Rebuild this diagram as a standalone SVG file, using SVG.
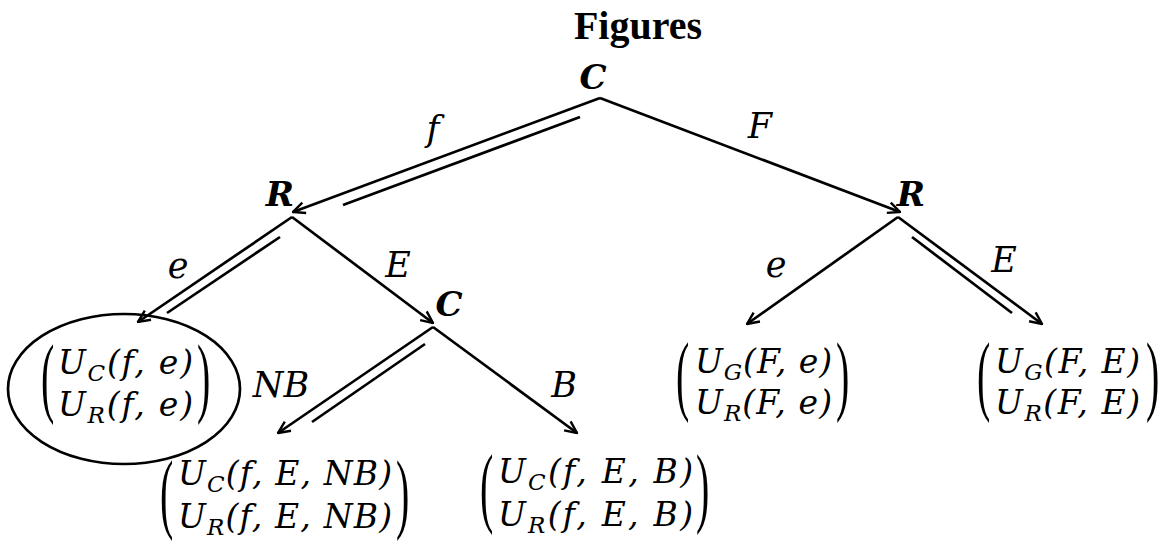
<svg xmlns="http://www.w3.org/2000/svg" width="1168" height="547" viewBox="0 0 1168 547">
<style>
.title{font-family:"Liberation Serif",serif;font-weight:bold;font-size:40px;fill:#000}
.node{font-family:"DejaVu Serif",serif;font-weight:bold;font-style:italic;font-size:34px;fill:#000}
.lab{font-family:"DejaVu Serif",serif;font-style:italic;font-size:35px;fill:#000}
.m{font-family:"DejaVu Serif",serif;font-style:italic;font-size:33px;fill:#000}
.sub{font-size:23px}
.bp{font-family:"Liberation Serif",serif;font-size:40px;fill:#000}
.ln{stroke:#000;stroke-width:2.7;fill:none}
.arr{marker-end:url(#ah)}
</style>
<defs>
<marker id="ah" viewBox="0 0 14 14" refX="13" refY="7" markerWidth="14" markerHeight="14" markerUnits="userSpaceOnUse" orient="auto"><path d="M1,1.5 L13,7 L1,12.5" fill="none" stroke="#000" stroke-width="2.4"/></marker>
</defs>
<rect width="1168" height="547" fill="#fff"/>
<text class="title" x="638" y="39" text-anchor="middle">Figures</text>

<g id="connectors">
<line class="ln arr" x1="600" y1="98" x2="293" y2="212"/>
<line class="ln" x1="580" y1="117" x2="343" y2="205"/>
<line class="ln arr" x1="600" y1="98" x2="900" y2="212"/>
<line class="ln arr" x1="292" y1="217" x2="138" y2="322"/>
<line class="ln" x1="280" y1="237" x2="167" y2="313"/>
<line class="ln arr" x1="292" y1="217" x2="433" y2="323"/>
<line class="ln arr" x1="433" y1="327" x2="278" y2="433"/>
<line class="ln" x1="425" y1="344" x2="312" y2="422"/>
<line class="ln arr" x1="433" y1="327" x2="577" y2="433"/>
<line class="ln arr" x1="898" y1="217" x2="747" y2="324"/>
<line class="ln arr" x1="898" y1="217" x2="1042" y2="324"/>
<line class="ln" x1="912" y1="237" x2="1012" y2="313"/>
<text class="lab" x="433" y="141" text-anchor="middle">f</text>
<text class="lab" x="760" y="138" text-anchor="middle">F</text>
<text class="lab" x="178" y="278" text-anchor="middle">e</text>
<text class="lab" x="398" y="277" text-anchor="middle">E</text>
<text class="lab" x="281" y="397" text-anchor="middle">NB</text>
<text class="lab" x="564" y="397" text-anchor="middle">B</text>
<text class="lab" x="776" y="277" text-anchor="middle">e</text>
<text class="lab" x="1004" y="272" text-anchor="middle">E</text>
</g>

<g id="node-C-root"><text class="node" x="593" y="89" text-anchor="middle">C</text></g>
<g id="node-R-left"><text class="node" x="280" y="206" text-anchor="middle">R</text></g>
<g id="node-R-right"><text class="node" x="911" y="206" text-anchor="middle">R</text></g>
<g id="node-C-mid"><text class="node" x="449" y="316" text-anchor="middle">C</text></g>

<g id="leaf-fe">
<ellipse cx="124" cy="389" rx="116" ry="75" class="ln"/>
<text class="bp" transform="translate(41,406) scale(1,2.2)">(</text>
<text class="m" x="58" y="374" textLength="135" lengthAdjust="spacing">U<tspan class="sub" dy="7">C</tspan><tspan dy="-7">(f, e)</tspan></text>
<text class="m" x="58" y="416" textLength="135" lengthAdjust="spacing">U<tspan class="sub" dy="7">R</tspan><tspan dy="-7">(f, e)</tspan></text>
<text class="bp" transform="translate(197,406) scale(1,2.2)">)</text>
</g>

<g id="leaf-fENB">
<text class="bp" transform="translate(160,522) scale(1,2.2)">(</text>
<text class="m" x="178" y="485" textLength="214" lengthAdjust="spacing">U<tspan class="sub" dy="7">C</tspan><tspan dy="-7">(f, E, NB)</tspan></text>
<text class="m" x="178" y="528" textLength="214" lengthAdjust="spacing">U<tspan class="sub" dy="7">R</tspan><tspan dy="-7">(f, E, NB)</tspan></text>
<text class="bp" transform="translate(396,522) scale(1,2.2)">)</text>
</g>

<g id="leaf-fEB">
<text class="bp" transform="translate(480,516) scale(1,2.2)">(</text>
<text class="m" x="498" y="483" textLength="195" lengthAdjust="spacing">U<tspan class="sub" dy="7">C</tspan><tspan dy="-7">(f, E, B)</tspan></text>
<text class="m" x="498" y="526" textLength="195" lengthAdjust="spacing">U<tspan class="sub" dy="7">R</tspan><tspan dy="-7">(f, E, B)</tspan></text>
<text class="bp" transform="translate(696,516) scale(1,2.2)">)</text>
</g>

<g id="leaf-Fe">
<text class="bp" transform="translate(676,404) scale(1,2.2)">(</text>
<text class="m" x="695" y="373" textLength="137" lengthAdjust="spacing">U<tspan class="sub" dy="7">G</tspan><tspan dy="-7">(F, e)</tspan></text>
<text class="m" x="695" y="414" textLength="137" lengthAdjust="spacing">U<tspan class="sub" dy="7">R</tspan><tspan dy="-7">(F, e)</tspan></text>
<text class="bp" transform="translate(836,404) scale(1,2.2)">)</text>
</g>

<g id="leaf-FE">
<text class="bp" transform="translate(977,404) scale(1,2.2)">(</text>
<text class="m" x="995" y="373" textLength="145" lengthAdjust="spacing">U<tspan class="sub" dy="7">G</tspan><tspan dy="-7">(F, E)</tspan></text>
<text class="m" x="995" y="414" textLength="145" lengthAdjust="spacing">U<tspan class="sub" dy="7">R</tspan><tspan dy="-7">(F, E)</tspan></text>
<text class="bp" transform="translate(1146,404) scale(1,2.2)">)</text>
</g>
</svg>
